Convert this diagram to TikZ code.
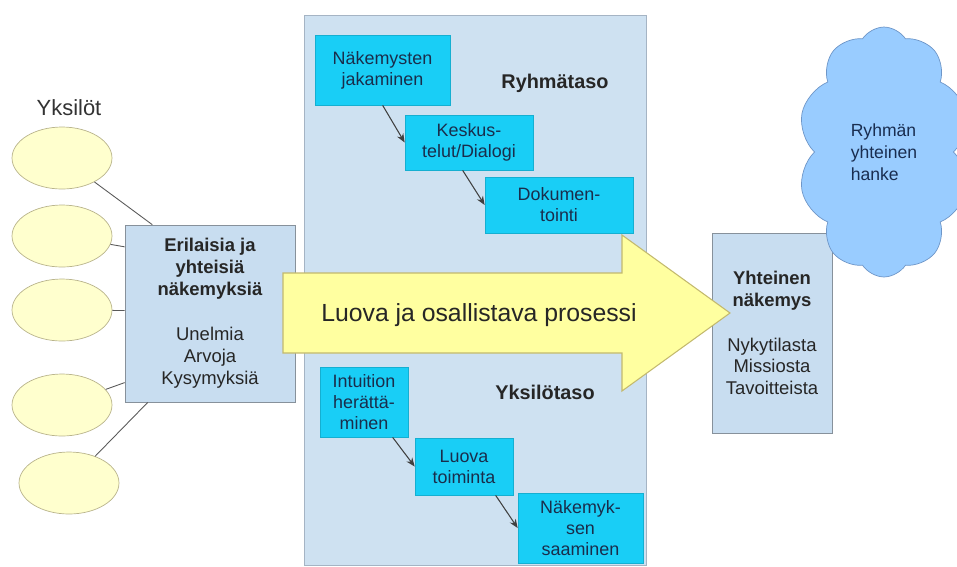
\documentclass[tikz,border=0pt]{standalone}
\usepackage{fontspec}
\setmainfont{Liberation Sans}
\usetikzlibrary{shapes.geometric,shapes.symbols,arrows.meta,positioning,calc}
\definecolor{panelblue}{RGB}{206,225,241}
\definecolor{panelline}{RGB}{165,180,196}
\definecolor{boxfill}{RGB}{200,221,240}
\definecolor{boxline}{RGB}{135,145,155}
\definecolor{stepcyan}{RGB}{25,206,246}
\definecolor{steptext}{RGB}{25,45,75}
\definecolor{personfill}{RGB}{255,255,206}
\definecolor{personline}{RGB}{185,180,140}
\definecolor{arrowyellow}{RGB}{255,255,160}
\definecolor{arrowline}{RGB}{195,185,110}
\definecolor{cloudblue}{RGB}{153,204,255}
\definecolor{cloudline}{RGB}{110,150,200}
\definecolor{cloudtext}{RGB}{25,45,80}
\tikzstyle{flow} = [line width=0.6pt,draw=black!75,-{Stealth[length=5pt,width=4pt]}]

\begin{document}
\begin{tikzpicture}[x=0.02cm,y=-0.02cm,
    person/.style={ellipse,draw=personline,fill=personfill,minimum width=2cm,minimum height=1.24cm},
    viewbox/.style={rectangle,draw=boxline,fill=boxfill,align=center,inner sep=0pt,
        font=\fontsize{10.5}{12.5}\selectfont,text=black!85},
    stepbox/.style={rectangle,fill=stepcyan,draw=stepcyan!85!black,align=center,inner sep=0pt,
        font=\fontsize{10.2}{11.9}\selectfont,text=steptext},
    tierlabel/.style={font=\bfseries\fontsize{11.3}{13}\selectfont,text=black!85},
    link/.style={draw=black!65,line width=0.5pt}]
    \useasboundingbox (0,0) rectangle (957,566);

    % middle panel
    \node[rectangle,draw=panelline,fill=panelblue,minimum width=6.84cm,minimum height=11cm] (panel) at (475,290) {};

    % individuals
    \node[font=\fontsize{12.5}{15}\selectfont,text=black!80] (yks) at (69,108) {Yksilöt};
    \foreach \i/\x/\y in {1/62/158,2/62/236,3/62/310,4/62/405,5/69/483}
        \node[person] (e\i) at (\x,\y) {};

    \node[viewbox,minimum width=3.4cm,minimum height=3.54cm] (lbox) at (210,313.5)
        {\textbf{Erilaisia ja}\\\textbf{yhteisiä}\\\textbf{näkemyksiä}\\[13pt]Unelmia\\Arvoja\\Kysymyksiä};

    % individual -> views
    \foreach \i/\a in {1/123,2/142,3/178,4/219,5/235}
        \draw[link] (e\i) -- (lbox.\a);

    % group level
    \node[stepbox,minimum width=2.7cm,minimum height=1.4cm] (share) at (382.5,70) {Näkemysten\\jakaminen};
    \node[stepbox,minimum width=2.56cm,minimum height=1.1cm] (dialog) at (469,142.5) {Keskus-\\telut/Dialogi};
    \node[stepbox,minimum width=2.96cm,minimum height=1.12cm] (docs) at (559,205) {Dokumen-\\tointi};
    \node[tierlabel] (grp) at (555,83) {Ryhmätaso};

    \draw[flow] ($(share.south -| dialog.west)+(-22,0)$) -- (dialog.west);
    \draw[flow] ($(dialog.south -| docs.west)+(-22,0)$) -- (docs.west);

    % individual level
    \node[stepbox,minimum width=1.76cm,minimum height=1.4cm] (intu) at (364,402) {Intuition\\herättä-\\minen};
    \node[stepbox,minimum width=1.96cm,minimum height=1.14cm] (create) at (464,466.5) {Luova\\toiminta};
    \node[stepbox,minimum width=2.5cm,minimum height=1.4cm] (insight) at (580.5,528) {Näkemyk-\\sen\\saaminen};
    \node[tierlabel] (ind) at (545,392) {Yksilötaso};

    \draw[flow] ($(intu.south -| create.west)+(-22,0)$) -- (create.west);
    \draw[flow] ($(create.south -| insight.west)+(-22,0)$) -- (insight.west);

    % shared vision + project
    \node[viewbox,minimum width=2.4cm,minimum height=4cm] (rbox) at (772,333)
        {\textbf{Yhteinen}\\\textbf{näkemys}\\[13pt]Nykytilasta\\Missiosta\\Tavoitteista};
    \node[cloud,cloud puffs=10,cloud puff arc=115,cloud ignores aspect,draw=cloudline,fill=cloudblue,
        minimum width=3.45cm,minimum height=5cm,align=left,text=cloudtext,
        font=\fontsize{10}{12.5}\selectfont] (goal) at (884,152) {Ryhmän\\yhteinen\\hanke};

    % big process arrow
    \filldraw[draw=arrowline,fill=arrowyellow,line width=0.6pt]
        (283,273) -- (622,273) -- (622,235) -- (730,313) -- (622,391) -- (622,353) -- (283,353) -- cycle;
    \node[font=\fontsize{14.1}{17}\selectfont,text=black!85] (proc) at (479,315) {Luova ja osallistava prosessi};
\end{tikzpicture}
\end{document}
